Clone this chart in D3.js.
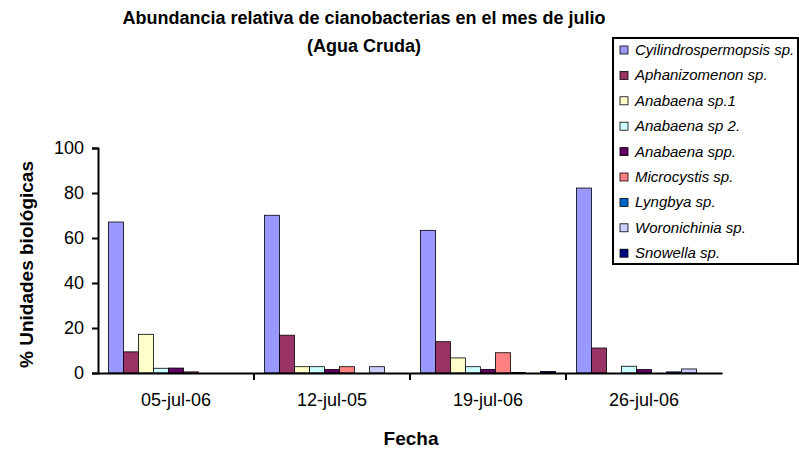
<!DOCTYPE html>
<html lang="es">
<head>
<meta charset="utf-8">
<title>Abundancia relativa de cianobacterias</title>
<script src="https://d3js.org/d3.v7.min.js"></script>
<style>
  body { margin: 0; background: #fff; }
  text { font-family: "Liberation Sans", Arial, sans-serif; fill: #000; }
</style>
</head>
<body>
<div id="chart"></div>
<script>
// categories (fechas) and series (especies)
var fechas = ["05-jul-06", "12-jul-05", "19-jul-06", "26-jul-06"];
var especies = ["Cyilindrospermopsis sp.", "Aphanizomenon sp.", "Anabaena sp.1", "Anabaena sp 2.",
                "Anabaena spp.", "Microcystis sp.", "Lyngbya sp.", "Woronichinia sp.", "Snowella sp."];
var colores = ["#9999FF", "#993366", "#FFFFCC", "#CCFFFF", "#660066", "#FF8080", "#0066CC", "#CCCCFF", "#000080"];

// % unidades biológicas, one array per species (one value per fecha)
var cyilindrospermopsis = [67.1, 70.1, 63.4, 82.2];
var aphanizomenon       = [9.4, 16.8, 13.9, 11.1];
var anabaena1           = [17.2, 2.8, 6.7, 0];
var anabaena2           = [2.1, 2.8, 2.8, 3.0];
var anabaenaSpp         = [2.2, 1.6, 1.6, 1.5];
var microcystis         = [0.5, 2.8, 9.0, 0];
var lyngbya             = [0, 0, 0.2, 0.5];
var woronichinia        = [0, 2.8, 0, 1.8];
var snowella            = [0, 0, 0.7, 0];
var series = [cyilindrospermopsis, aphanizomenon, anabaena1, anabaena2, anabaenaSpp,
              microcystis, lyngbya, woronichinia, snowella];
var yTicks = [0, 20, 40, 60, 80, 100];

var W = 799, H = 449;
var margin = {top: 148, right: 77, bottom: 76, left: 98},
    width = W - margin.left - margin.right,
    height = H - margin.top - margin.bottom;

var svg = d3.select("#chart").append("svg")
    .attr("width", W).attr("height", H);

var g = svg.append("g")
    .attr("transform", "translate(" + margin.left + "," + margin.top + ")");

var x0 = d3.scaleBand().domain(fechas).range([0, width]).padding(0);
var x1 = d3.scaleBand().domain(d3.range(especies.length))
    .range([0, x0.bandwidth()]).paddingInner(0).paddingOuter(0.7);
var y = d3.scaleLinear().domain([0, 100]).range([height, 0]);

// bars
var rows = [];
fechas.forEach(function(f, i) {
  series.forEach(function(s, j) { rows.push({fecha: f, k: j, v: s[i]}); });
});
g.selectAll("rect.bar").data(rows).enter().append("rect")
    .attr("class", "bar")
    .attr("x", function(d) { return x0(d.fecha) + x1(d.k); })
    .attr("y", function(d) { return y(d.v); })
    .attr("width", x1.bandwidth())
    .attr("height", function(d) { return height - y(d.v); })
    .attr("fill", function(d) { return colores[d.k]; })
    .attr("stroke", "#000")
    .attr("stroke-width", 0.8);

// Y axis
var yAxis = g.append("g")
    .call(d3.axisLeft(y).tickValues(yTicks).tickSize(6).tickPadding(8));
yAxis.select(".domain").attr("stroke", "#000").attr("stroke-width", 2);
yAxis.selectAll(".tick line").attr("stroke-width", 2);
yAxis.selectAll("text").style("font-size", "18px");

// X axis
var xAxis = g.append("g")
    .attr("transform", "translate(0," + height + ")")
    .call(d3.axisBottom(x0).tickSize(0).tickPadding(20).tickSizeOuter(0));
xAxis.select(".domain").attr("stroke", "#000").attr("stroke-width", 2);
xAxis.selectAll("text").style("font-size", "18px");
// tick marks between categories
xAxis.selectAll("line.sep").data(fechas.slice(1)).enter().append("line")
    .attr("class", "sep")
    .attr("x1", function(d) { return x0(d); }).attr("x2", function(d) { return x0(d); })
    .attr("y1", 0).attr("y2", 7)
    .attr("stroke", "#000").attr("stroke-width", 2);

// titles
svg.append("text")
    .attr("x", 364).attr("y", 24)
    .attr("text-anchor", "middle")
    .style("font-weight", "bold").style("font-size", "18px")
    .text("Abundancia relativa de cianobacterias en el mes de julio");
svg.append("text")
    .attr("x", 364).attr("y", 52)
    .attr("text-anchor", "middle")
    .style("font-weight", "bold").style("font-size", "18px")
    .text("(Agua Cruda)");

svg.append("text")
    .attr("x", 411).attr("y", 445)
    .attr("text-anchor", "middle")
    .style("font-weight", "bold").style("font-size", "19px")
    .text("Fecha");

svg.append("text")
    .attr("transform", "translate(33," + (margin.top + height / 2 + 4) + ") rotate(-90)")
    .attr("text-anchor", "middle")
    .style("font-weight", "bold").style("font-size", "19px")
    .text("% Unidades biológicas");

// legend
var legend = svg.append("g").attr("transform", "translate(613,38)");
legend.append("rect")
    .attr("width", 185).attr("height", 226)
    .attr("fill", "#fff").attr("stroke", "#000").attr("stroke-width", 2);
var item = legend.selectAll("g.item").data(especies).enter().append("g")
    .attr("class", "item")
    .attr("transform", function(d, i) { return "translate(0," + (12 + i * 25.4) + ")"; });
item.append("rect")
    .attr("x", 7).attr("y", -4).attr("width", 8).attr("height", 8)
    .attr("fill", function(d, i) { return colores[i]; })
    .attr("stroke", "#000").attr("stroke-width", 0.8);
item.append("text")
    .attr("x", 22).attr("y", 5)
    .style("font-style", "italic").style("font-size", "15px")
    .text(function(d) { return d; });
</script>
</body>
</html>
